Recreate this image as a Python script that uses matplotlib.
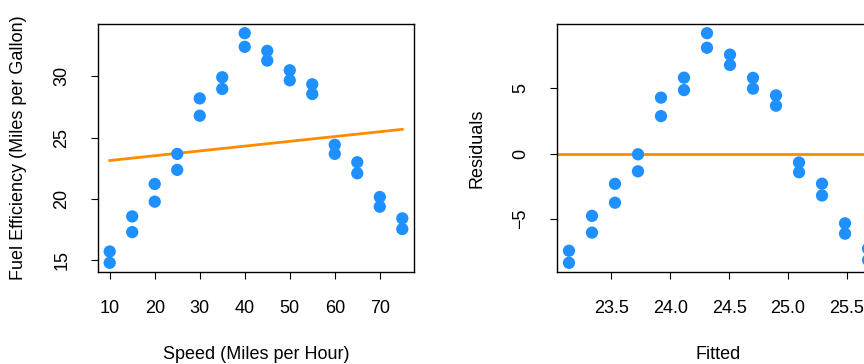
import numpy as np
import matplotlib.pyplot as plt

plt.rcParams['font.family'] = ['Liberation Sans', 'DejaVu Sans']
plt.rcParams['font.size'] = 13

speed = [10, 10, 15, 15, 20, 20, 25, 25, 30, 30, 35, 35, 40, 40,
         45, 45, 50, 50, 55, 55, 60, 60, 65, 65, 70, 70, 75, 75]
mpg = [15.73, 14.81, 18.59, 17.31, 21.23, 19.79, 23.68, 22.38, 28.20, 26.79,
       29.92, 28.97, 33.51, 32.40, 32.07, 31.28, 30.49, 29.67, 29.35, 28.56,
       24.42, 23.68, 23.00, 22.10, 20.17, 19.38, 18.43, 17.56]

x = np.array(speed, dtype=float)
y = np.array(mpg)
slope, intercept = np.polyfit(x, y, 1)
fitted = intercept + slope * x
resid = y - fitted

blue = '#1E90FF'
orange = '#FF8C00'

fig = plt.figure(figsize=(8.64, 3.64), dpi=100)
ax1 = fig.add_axes([98 / 864, 1 - 272 / 364, 316 / 864, 248 / 364])
ax2 = fig.add_axes([557 / 864, 1 - 272 / 364, 323 / 864, 248 / 364])


def r_limits(v):
    lo, hi = min(v), max(v)
    pad = 0.04 * (hi - lo)
    return lo - pad, hi + pad


def style(ax):
    for s in ax.spines.values():
        s.set_linewidth(1.0)
    ax.tick_params(direction='out', length=5, width=0.8, pad=15, labelsize=13)
    for lab in ax.get_yticklabels():
        lab.set_rotation(90)
        lab.set_va('center')


# left panel
ax1.scatter(x, y, s=78, color=blue, edgecolors='none', zorder=3)
xs = np.array([x.min(), x.max()])
ax1.plot(xs, intercept + slope * xs, color=orange, lw=2)
ax1.set_xlim(r_limits(x))
ax1.set_ylim(r_limits(y))
ax1.set_xticks([10, 20, 30, 40, 50, 60, 70])
ax1.set_yticks([15, 20, 25, 30])
ax1.set_xlabel('Speed (Miles per Hour)', labelpad=21)
ax1.set_ylabel('Fuel Efficiency (Miles per Gallon)', labelpad=19)
style(ax1)

# right panel
ax2.scatter(fitted, resid, s=78, color=blue, edgecolors='none', zorder=3)
ax2.axhline(0, color=orange, lw=2)
ax2.set_xlim(r_limits(fitted))
ax2.set_ylim(r_limits(resid))
ax2.set_xticks([23.5, 24.0, 24.5, 25.0, 25.5])
ax2.set_xticklabels(['23.5', '24.0', '24.5', '25.0', '25.5'])
ax2.set_yticks([-5, 0, 5])
ax2.set_xlabel('Fitted', labelpad=21)
ax2.set_ylabel('Residuals', labelpad=19)
style(ax2)

fig.savefig('out.png', dpi=100)
